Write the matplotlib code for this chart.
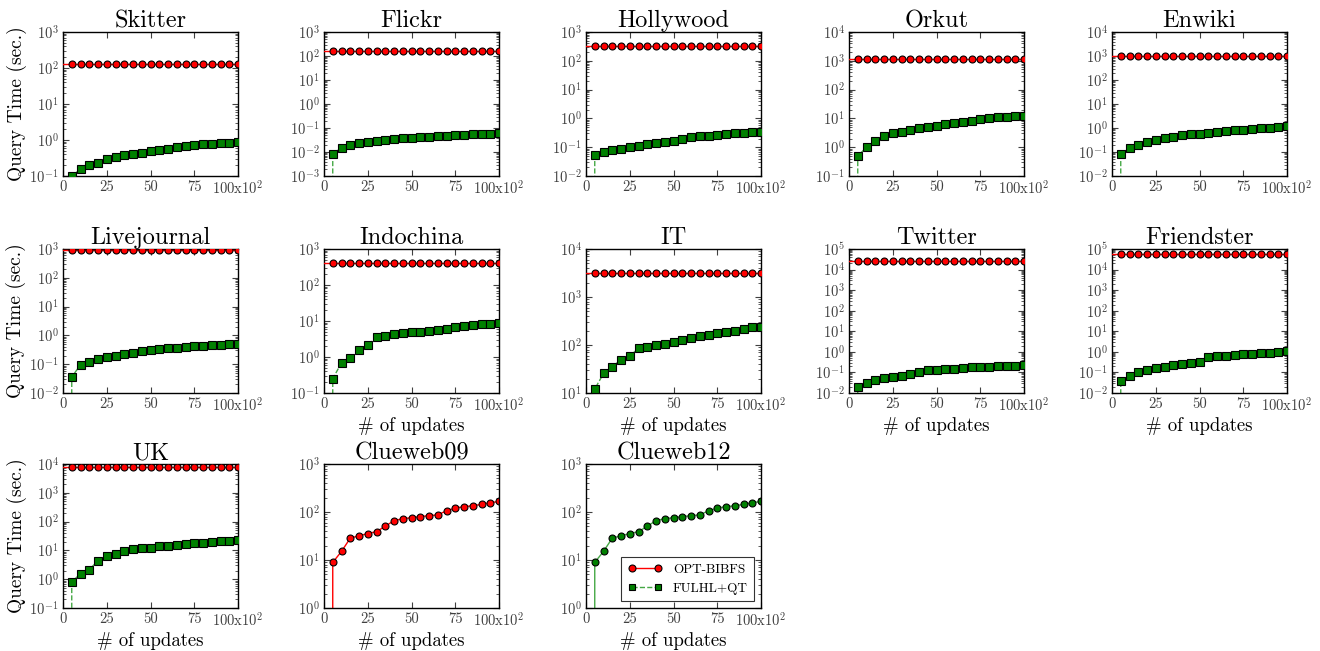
import numpy as np
import matplotlib
matplotlib.use("Agg")
import matplotlib.pyplot as plt
from matplotlib.ticker import LogLocator, FixedLocator, FixedFormatter, NullFormatter

plt.rcParams['font.family'] = ['cmr10', 'DejaVu Serif']
plt.rcParams['mathtext.fontset'] = 'cm'
plt.rcParams['axes.formatter.use_mathtext'] = True

# x axis: number of updates (x10^2)
updates = [0, 5, 10, 15, 20, 25, 30, 35, 40, 45, 50, 55, 60, 65, 70, 75, 80, 85, 90, 95, 100]

datasets = ['Skitter', 'Flickr', 'Hollywood', 'Orkut', 'Enwiki',
            'Livejournal', 'Indochina', 'IT', 'Twitter', 'Friendster',
            'UK', 'Clueweb09', 'Clueweb12']

# Opt-BiBFS query time (constant over updates), seconds
bibfs_time = [130, 157, 330, 1140, 1000, 920, 420, 3190, 26000, 57000, 8000, None, None]

# FulHL+QT query time, seconds
skitter_qt = [0, 0.10, 0.155, 0.20, 0.233, 0.296, 0.345, 0.376, 0.41, 0.44, 0.49,
              0.52, 0.58, 0.63, 0.68, 0.72, 0.77, 0.79, 0.81, 0.84, 0.88]
flickr_qt = [0, 0.0083, 0.015, 0.019, 0.023, 0.026, 0.029, 0.033, 0.035, 0.037, 0.040,
             0.042, 0.044, 0.045, 0.048, 0.050, 0.052, 0.054, 0.056, 0.058, 0.060]
hollywood_qt = [0, 0.053, 0.070, 0.079, 0.090, 0.10, 0.113, 0.13, 0.14, 0.157, 0.17,
                0.20, 0.22, 0.24, 0.25, 0.27, 0.29, 0.30, 0.31, 0.33, 0.34]
orkut_qt = [0, 0.49, 1.0, 1.6, 2.4, 3.0, 3.5, 4.1, 4.6, 5.1, 5.5,
            6.3, 6.9, 7.4, 8.3, 9.5, 10.3, 10.9, 11.4, 11.8, 12.4]
enwiki_qt = [0, 0.083, 0.142, 0.19, 0.27, 0.32, 0.37, 0.42, 0.51, 0.54, 0.58,
             0.64, 0.70, 0.73, 0.80, 0.83, 0.88, 0.97, 1.03, 1.10, 1.17]
livejournal_qt = [0, 0.036, 0.095, 0.124, 0.149, 0.178, 0.20, 0.222, 0.25, 0.277, 0.30,
                  0.33, 0.36, 0.38, 0.40, 0.43, 0.44, 0.46, 0.48, 0.50, 0.51]
indochina_qt = [0, 0.25, 0.69, 0.92, 1.57, 2.2, 3.5, 3.8, 4.3, 4.7, 4.8,
                5.1, 5.35, 5.8, 6.1, 6.9, 7.4, 7.6, 8.1, 8.5, 8.9]
it_qt = [0, 12.1, 25.5, 35.6, 49, 59, 85, 90, 98, 103, 113,
         127, 142, 154, 163, 180, 189, 198, 218, 232, 236]
twitter_qt = [0, 0.020, 0.0316, 0.041, 0.051, 0.062, 0.069, 0.080, 0.108, 0.125, 0.135,
              0.145, 0.150, 0.162, 0.175, 0.18, 0.19, 0.195, 0.20, 0.21, 0.22]
friendster_qt = [0, 0.04, 0.07, 0.10, 0.13, 0.16, 0.19, 0.22, 0.25, 0.28, 0.31,
                 0.55, 0.60, 0.65, 0.70, 0.75, 0.80, 0.85, 0.90, 0.95, 1.05]
uk_qt = [0, 0.79, 1.57, 2.15, 4.4, 6.4, 7.7, 9.5, 10.8, 12.0, 12.6,
         13.7, 14.5, 15.2, 16.6, 17.4, 17.9, 18.9, 20.4, 21.5, 22.7]
clueweb_qt = [0, 8.9, 15.1, 28.5, 32, 35.5, 39, 50.5, 66, 72.6, 76,
              80, 84, 87, 106, 121, 129, 135, 144, 156, 166]

qt_series = [skitter_qt, flickr_qt, hollywood_qt, orkut_qt, enwiki_qt,
             livejournal_qt, indochina_qt, it_qt, twitter_qt, friendster_qt,
             uk_qt, clueweb_qt, clueweb_qt]

# y range exponents (10^lo .. 10^hi)
y_lo = [-1, -3, -2, -1, -2, -2, -1, 1, -2, -2, -1, 0, 0]
y_hi = [3, 3, 3, 4, 4, 3, 3, 4, 5, 5, 4, 3, 3]

xtick_vals = [0, 25, 50, 75, 100]
xtick_labels = ['0', '25', '50', '75', r'100x$\mathregular{10^2}$']

W, H = 1320, 651
fig = plt.figure(figsize=(W / 100, H / 100), dpi=100)

col_left = [63, 324, 586, 849, 1112]
row_top = [32, 249, 464]
ax_w, ax_h = 175, 144

gray = '0.25'
line_green = '#45a845'
for k, name in enumerate(datasets):
    r, c = divmod(k, 5)
    ax = fig.add_axes([col_left[c] / W, 1 - (row_top[r] + ax_h) / H, ax_w / W, ax_h / H])
    ax.set_yscale('log')

    if name == 'Clueweb09':
        ax.plot(updates, qt_series[k], '-o', color='red', lw=1.0, ms=5,
                mfc='red', mec='black', mew=0.8)
    elif name == 'Clueweb12':
        ax.plot(updates, qt_series[k], '-o', color=line_green, lw=1.0, ms=5,
                mfc='green', mec='black', mew=0.8)
        # legend handles
        ax.plot([], [], '-o', color='red', lw=1.0, ms=5, mfc='red', mec='black',
                mew=0.8, label='OPT-BIBFS')
        ax.plot([], [], '--s', color=line_green, lw=1.0, ms=5, mfc='green', mec='black',
                mew=0.8, label='FULHL+QT')
        leg = ax.legend(loc='lower right', numpoints=2, fontsize=9.5, frameon=True,
                        fancybox=False, borderpad=0.5, handlelength=2.6,
                        borderaxespad=0.5)
        leg.get_frame().set_edgecolor('black')
        leg.get_frame().set_linewidth(0.8)
    else:
        ax.plot(updates, [bibfs_time[k]] * len(updates), '-o', color='red', lw=1.0,
                ms=5, mfc='red', mec='black', mew=0.8, markevery=slice(1, None),
                zorder=3)
        ax.plot(updates, qt_series[k], '--', color=line_green, lw=1.0, zorder=2)
        ax.plot(updates[1:], qt_series[k][1:], 's', ms=5.5, mfc='green',
                mec='black', mew=0.8, zorder=4)

    ax.set_xlim(0, 100)
    ax.set_ylim(10.0 ** y_lo[k], 10.0 ** y_hi[k])
    ax.xaxis.set_major_locator(FixedLocator(xtick_vals))
    ax.xaxis.set_major_formatter(FixedFormatter(xtick_labels))
    ax.yaxis.set_major_locator(LogLocator(base=10, numticks=20))
    ax.yaxis.set_minor_locator(LogLocator(base=10, subs=np.arange(2, 10), numticks=20))
    ax.yaxis.set_minor_formatter(NullFormatter())
    ax.tick_params(which='both', direction='in', top=True, right=True,
                   color=gray, labelcolor=gray, labelsize=10.5, pad=3)
    ax.tick_params(which='major', length=4, width=0.8)
    ax.tick_params(which='minor', length=2, width=0.6)
    for s in ax.spines.values():
        s.set_linewidth(1.0)

    ax.set_title(name, fontsize=17.5, pad=3)
    if c == 0:
        ax.set_ylabel('Query Time (sec.)', fontsize=14, labelpad=2)
    if r == 2 or (r == 1 and c > 0):
        ax.set_xlabel('# of updates', fontsize=13.5, labelpad=1)

fig.savefig('out.png', dpi=100)
